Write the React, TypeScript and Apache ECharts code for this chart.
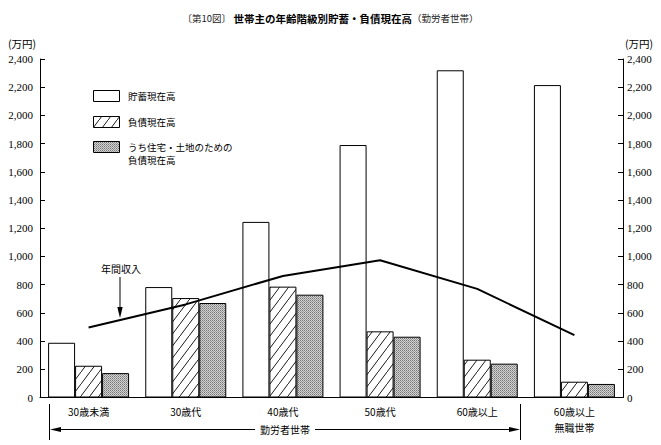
import React, { useEffect, useRef } from "react";
import * as echarts from "echarts";

const categories = ["30歳未満", "30歳代", "40歳代", "50歳代", "60歳以上", "60歳以上\n無職世帯"];
const savings = [388, 783, 1245, 1790, 2320, 2215];
const debt = [225, 705, 786, 469, 268, 112];
const housingDebt = [173, 670, 729, 431, 240, 96];
const income = [497, 660, 862, 973, 770, 442];
const yTicks = { min: 0, max: 2400, interval: 200 };
const seriesNames = ["貯蓄現在高", "負債現在高", "うち住宅・土地のための\n負債現在高", "年間収入"];

const JP = "'Noto Sans CJK JP', 'Noto Sans', sans-serif";
const NUM = "'Liberation Serif', 'DejaVu Serif', serif";

function makeHatch() {
  const c = document.createElement("canvas");
  c.width = 9;
  c.height = 12;
  const ctx = c.getContext("2d")!;
  ctx.fillStyle = "#fff";
  ctx.fillRect(0, 0, 9, 12);
  ctx.strokeStyle = "#000";
  ctx.lineWidth = 0.9;
  ctx.beginPath();
  ctx.moveTo(-1, 12 + 12 / 9);
  ctx.lineTo(10, -12 / 9);
  ctx.stroke();
  return c;
}

function makeStipple() {
  const c = document.createElement("canvas");
  c.width = 2;
  c.height = 2;
  const ctx = c.getContext("2d")!;
  ctx.fillStyle = "#d2d2d2";
  ctx.fillRect(0, 0, 2, 2);
  ctx.fillStyle = "#777";
  ctx.fillRect(0, 0, 1, 1);
  ctx.fillStyle = "#9a9a9a";
  ctx.fillRect(1, 1, 1, 1);
  return c;
}

export default function App() {
  const ref = useRef<HTMLDivElement>(null);
  useEffect(() => {
    if (!ref.current) return;
    const chart = echarts.init(ref.current, undefined, { renderer: "svg" });
    const hatch = { image: makeHatch(), repeat: "repeat" } as any;
    const stipple = { image: makeStipple(), repeat: "repeat" } as any;
    const fmt = (v: number) => v.toLocaleString("en-US");
    const black = "#000";

    const legendItems = [
      { fill: "#fff", label: seriesNames[0], y: 90 },
      { fill: hatch, label: seriesNames[1], y: 116 },
      { fill: stipple, label: seriesNames[2], y: 141 },
    ];
    const legendGraphics: any[] = [];
    legendItems.forEach((it) => {
      legendGraphics.push({
        type: "rect",
        shape: { x: 93.5, y: it.y + 0.5, width: 26, height: 11 },
        style: { fill: it.fill, stroke: black, lineWidth: 1 },
      });
      legendGraphics.push({
        type: "text",
        x: 128,
        y: it.y - 1,
        style: {
          text: it.label,
          fontFamily: JP,
          fontSize: 9.5,
          lineHeight: 13,
          fill: black,
          textVerticalAlign: "top",
        },
      });
    });

    const axisCommon = {
      type: "value",
      min: yTicks.min,
      max: yTicks.max,
      interval: yTicks.interval,
      axisLine: { show: true, lineStyle: { color: black, width: 1 } },
      axisTick: { show: true, inside: true, length: 5, lineStyle: { color: black } },
      splitLine: { show: false },
    };

    chart.setOption({
      animation: false,
      backgroundColor: "#fff",
      title: {
        text: "{a|〔第10図〕} {b|世帯主の年齢階級別貯蓄・負債現在高}{a|（勤労者世帯）}",
        left: "center",
        top: 8,
        textStyle: {
          fontSize: 9.5,
          rich: {
            a: { fontFamily: JP, fontSize: 9.5, fontWeight: "normal", color: "#222" },
            b: { fontFamily: JP, fontSize: 10.5, fontWeight: "bold", color: black },
          },
        },
      },
      grid: { left: 40, right: 38, top: 59, bottom: 47.5, containLabel: false },
      xAxis: {
        type: "category",
        data: categories,
        axisLine: { show: true, lineStyle: { color: black, width: 1 } },
        axisTick: { show: false },
        axisLabel: {
          interval: 0,
          color: black,
          fontFamily: JP,
          fontSize: 10,
          margin: 6,
          lineHeight: 16,
        },
      },
      yAxis: [
        {
          ...axisCommon,
          position: "left",
          axisLabel: { color: black, fontFamily: NUM, fontSize: 11, margin: 7, formatter: fmt },
        },
        {
          ...axisCommon,
          position: "right",
          axisLabel: { color: black, fontFamily: NUM, fontSize: 11, margin: 4, formatter: fmt },
        },
      ],
      series: [
        {
          name: seriesNames[0],
          type: "bar",
          data: savings,
          barWidth: 27,
          barGap: "0%",
          itemStyle: { color: "#fff", borderColor: black, borderWidth: 1 },
        },
        {
          name: seriesNames[1],
          type: "bar",
          data: debt,
          barWidth: 27,
          barGap: "0%",
          itemStyle: { color: hatch, borderColor: black, borderWidth: 1 },
        },
        {
          name: seriesNames[2],
          type: "bar",
          data: housingDebt,
          barWidth: 27,
          barGap: "0%",
          itemStyle: { color: stipple, borderColor: black, borderWidth: 1 },
        },
        {
          name: seriesNames[3],
          type: "line",
          data: income,
          symbol: "none",
          z: 5,
          lineStyle: { color: black, width: 2 },
        },
      ],
      graphic: [
        ...legendGraphics,
        {
          type: "text",
          x: 8,
          y: 43,
          style: { text: "(万円)", fontFamily: JP, fontSize: 10.5, fill: black, textVerticalAlign: "middle" },
        },
        {
          type: "text",
          x: 625,
          y: 43,
          style: { text: "(万円)", fontFamily: JP, fontSize: 10.5, fill: black, textVerticalAlign: "middle" },
        },
        {
          type: "text",
          x: 121,
          y: 268,
          style: {
            text: "年間収入",
            fontFamily: JP,
            fontSize: 10,
            fill: black,
            textAlign: "center",
            textVerticalAlign: "middle",
          },
        },
        { type: "line", shape: { x1: 120, y1: 277, x2: 120, y2: 310 }, style: { stroke: black, lineWidth: 1 } },
        { type: "polygon", shape: { points: [[117.3, 307], [122.7, 307], [120, 318]] }, style: { fill: black } },
        { type: "line", shape: { x1: 49.5, y1: 404, x2: 49.5, y2: 440 }, style: { stroke: black, lineWidth: 1 } },
        { type: "line", shape: { x1: 520.5, y1: 404, x2: 520.5, y2: 440 }, style: { stroke: black, lineWidth: 1 } },
        { type: "line", shape: { x1: 52, y1: 429.5, x2: 255, y2: 429.5 }, style: { stroke: black, lineWidth: 1 } },
        { type: "line", shape: { x1: 315, y1: 429.5, x2: 518, y2: 429.5 }, style: { stroke: black, lineWidth: 1 } },
        { type: "polygon", shape: { points: [[50, 429.5], [61, 427], [61, 432]] }, style: { fill: black } },
        { type: "polygon", shape: { points: [[520, 429.5], [509, 427], [509, 432]] }, style: { fill: black } },
        {
          type: "text",
          x: 285,
          y: 429.5,
          style: {
            text: "勤労者世帯",
            fontFamily: JP,
            fontSize: 10,
            fill: black,
            textAlign: "center",
            textVerticalAlign: "middle",
          },
        },
      ],
    });
    return () => chart.dispose();
  }, []);
  return (
    <div
      ref={ref}
      style={{ position: "absolute", left: 0, top: 0, width: 661, height: 445, background: "#fff" }}
    />
  );
}
